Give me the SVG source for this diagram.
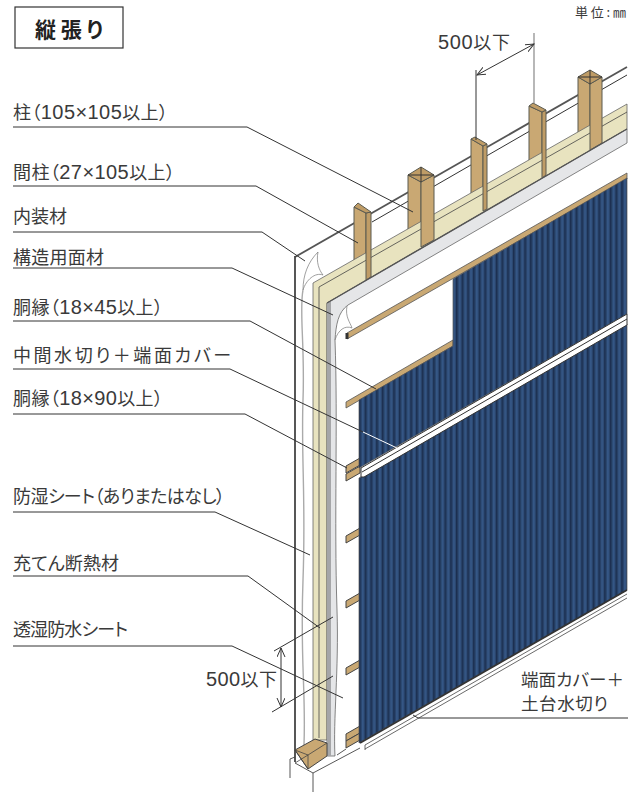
<svg xmlns="http://www.w3.org/2000/svg" width="642" height="792" viewBox="0 0 642 792">
<style>
text{font-family:"Noto Sans CJK JP","Noto Sans",sans-serif;fill:#3a3a3a;font-size:18px;font-feature-settings:"palt"}
.n{font-family:"Liberation Sans",sans-serif;font-size:20px}
.l{fill:none;stroke:#333;stroke-width:1}
.w{fill:#c9a873;stroke:#5a5a50;stroke-width:1}
.s{fill:#bf9c66;stroke:#5a5a50;stroke-width:1}
</style>
<defs>
<pattern id="rib" width="5.7" height="10" patternUnits="userSpaceOnUse">
<rect width="5.7" height="10" fill="#2b4870"/><rect x="0" width="1.5" height="10" fill="#1c2f50"/><rect x="3" width="1.4" height="10" fill="#37598a"/>
</pattern>
<marker id="a" markerWidth="10" markerHeight="10" refX="9" refY="4" orient="auto-start-reverse"><path d="M0 0L9 4L0 8" fill="none" stroke="#333" stroke-width="1"/></marker>
</defs>
<g id="wall">
<path d="M295 257L627 67" fill="none" stroke="#555" stroke-width="1.8"/>
<path d="M372 222L627 75" class="l"/>
<path d="M295 256V762" fill="none" stroke="#444" stroke-width="1.8"/>
<path d="M303 290C299 310 305 345 303 400S306 500 303 580S306 690 304 745" fill="none" stroke="#aaa" stroke-width="1.4"/>
<path d="M303 290C303 275 308 262 318 252C316 262 319 270 323 275C315 272 306 280 303 290" fill="#fff" stroke="#777" stroke-width=".7"/>
</g>
<g id="studs-back">
<path class="w" d="M354 207L366 213V270H354Z"/>
<path class="w" d="M471 139L483 146V205H471Z"/>
<path class="w" d="M529 106L542 112V172H529Z"/>
<path class="w" d="M408 175L421 182V240H408Z"/>
<path class="w" d="M578 77L590 84V145H578Z"/>
</g>
<g id="insulation">
<path d="M313 283L627 104V129L327 303V740H313Z" fill="#e8e3bf" stroke="#666" stroke-width=".8"/>
<path d="M319 287V738M319 287L627 112" fill="none" stroke="#444" stroke-width=".8"/>
</g>
<g id="studs-front">
<path class="s" d="M366 213L371 212V277L366 280Z"/><path class="s" d="M354 207L358 203L371 212L366 213Z"/>
<path class="s" d="M483 146L487 144V209L483 211Z"/><path class="s" d="M471 139L475 137L487 144L483 146Z"/>
<path class="s" d="M542 112L546 110V175L542 178Z"/><path class="s" d="M529 106L533 103L546 110L542 112Z"/>
<path class="w" d="M421 182L434 175V240L421 247Z"/><path class="s" d="M421 167L434 175L421 182L408 175Z"/><path class="l" d="M408 175H434M421 167V182" stroke="#555"/>
<path class="w" d="M590 84L602 77V143L590 150Z"/><path class="s" d="M590 70L602 77L590 84L578 77Z"/><path class="l" d="M578 77H602M590 70V84" stroke="#555"/>
</g>
<g id="sheet">
<path d="M327 303L627 129V143L348 305C338 312 336 325 335 340C338 420 334 520 337 610C339 670 333 720 335 756H327Z" fill="#e5e6e8" stroke="#666" stroke-width=".8"/>
<path d="M327 303V756H331V301Z" fill="#a5a6a8"/>
<path d="M327 303L627 129" stroke="#555" stroke-width="1.4"/>
<path d="M347 306C345 317 350 322 352 328C345 325 338 330 335 340" fill="#fff" stroke="#777" stroke-width=".7"/>
</g>
<g id="battens">
<path d="M347 333L627 173V179L347 339Z" fill="#c9a873" stroke="#555" stroke-width=".8"/>
<path d="M347 333V339" stroke="#333" stroke-width="3"/>
<path d="M346 402L453 340V346L346 408Z" fill="#c9a873" stroke="#555" stroke-width=".8"/>
<g id="small-battens" fill="#c9a873" stroke="#444" stroke-width="1">
<path d="M346 466L360 458V465L346 473Z"/><path d="M346 474L360 466V473L346 481Z"/>
<path d="M346 536L360 528V535L346 543Z"/>
<path d="M346 601L360 593V600L346 608Z"/>
<path d="M346 668L360 660V667L346 675Z"/>
<path d="M346 734L360 726V733L346 741Z"/><path d="M346 741L360 733V740L346 748Z"/>
</g>
</g>
<g id="panel">
<path d="M453 279L627 178V314L359 468V400L453 346Z" fill="url(#rib)" stroke="#555" stroke-width=".7"/>
<path d="M359 478L627 324V590L359 743Z" fill="url(#rib)" stroke="#555" stroke-width=".7"/>
<path d="M360 743L627 590" stroke="#333" stroke-width="1.8"/>
</g>
<g id="flashing">
<path d="M361 468L627 314V325L364 477H361Z" fill="#fff" stroke="#333" stroke-width="1"/>
<path d="M362 472L627 319" stroke="#333" stroke-width="1"/>
</g>
<g id="base">
<path d="M295 750L315 739L327 743V756L308 769Z" fill="#c9a873" stroke="#444"/>
<path d="M295 750L308 755L327 743M308 755V769M295 750L308 769M308 755L295 763" fill="none" stroke="#444" stroke-width=".8"/>
<path d="M365 745L627 594M365 749L627 598M365 745V750" fill="none" stroke="#444" stroke-width=".8"/>
<path d="M313 773L360 748M337 755L346 749M295 763L313 773V792M290 778V759L295 757" fill="none" stroke="#444" stroke-width=".9"/>
</g>
<g id="connectors" fill="none" stroke="#333" stroke-width="1">
<path d="M13 127H247L413 212"/>
<path d="M13 186H256L358 243"/>
<path d="M13 232H262L305 261"/>
<path d="M13 268H232L333 315"/>
<path d="M13 321H250L376 389"/>
<path d="M13 369H230L363 432"/>
<path d="M363 432L397 448" stroke="#fff"/>
<path d="M13 414H245L347 468"/>
<path d="M13 512H215L310 555"/>
<path d="M13 576H248L320 628"/>
<path d="M13 646H232L343 698"/>
<path d="M628 718H418L413 715"/>
<path d="M476 70V140"/>
<path d="M534 33V103" stroke="#888" stroke-width="1.2"/>
<path d="M477 75L534 44" marker-start="url(#a)" marker-end="url(#a)"/>
<path d="M274 651L333 617M272 712L333 676"/>
<path d="M281 648V707" marker-start="url(#a)" marker-end="url(#a)"/>
</g>
<g id="labels">
<rect x="15" y="7" width="108" height="41" fill="#fff" stroke="#333" stroke-width="1.2"/>
<text x="35" y="37" textLength="68" style="font-size:21px;font-weight:700;fill:#222">縦張り</text>
<text x="575" y="17" textLength="51" style="font-size:13px">単位:㎜</text>
<text x="438" y="49" textLength="72"><tspan class="n">500</tspan>以下</text>
<text x="206" y="686" textLength="71"><tspan class="n">500</tspan>以下</text>
<text x="13" y="119" textLength="155">柱（<tspan class="n">105×105</tspan>以上）</text>
<text x="13" y="179" textLength="162">間柱（<tspan class="n">27×105</tspan>以上）</text>
<text x="13" y="223">内装材</text>
<text x="13" y="264" textLength="91">構造用面材</text>
<text x="13" y="314" textLength="150">胴縁（<tspan class="n">18×45</tspan>以上）</text>
<text x="13" y="362" textLength="218">中間水切り＋端面カバー</text>
<text x="13" y="405" textLength="150">胴縁（<tspan class="n">18×90</tspan>以上）</text>
<text x="13" y="503" textLength="212">防湿シート（ありまたはなし）</text>
<text x="13" y="570" textLength="106">充てん断熱材</text>
<text x="13" y="636" textLength="115">透湿防水シート</text>
<text x="521" y="686" textLength="103" style="font-size:17.5px">端面カバー＋</text>
<text x="521" y="710" textLength="87" style="font-size:17.5px">土台水切り</text>
</g>
</svg>
